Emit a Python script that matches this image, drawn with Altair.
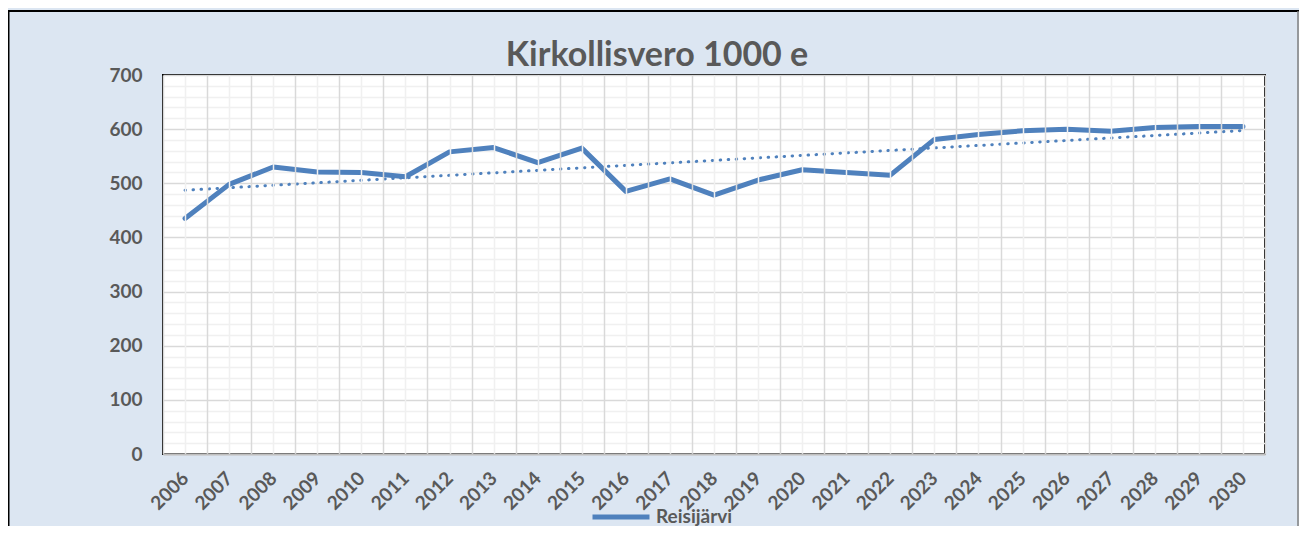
import altair as alt
import pandas as pd

# ---- data ----
years = list(range(2006, 2031))
values = [435, 498, 530, 521, 520, 512, 558, 566, 538, 565, 485, 508, 478,
          506, 525, 520, 515, 581, 590, 597, 600, 596, 603, 605, 605]
series_name = "Reisijärvi"
title_text = "Kirkollisvero 1000 e"
y_ticks = list(range(0, 701, 20))
x_ticks = [y + h for y in range(2005, 2031) for h in (0.5, 1.0)][:-1]

df = pd.DataFrame({"year": years, "value": values, "series": [series_name] * len(years)})

FONT = "Lato"
TXT = "#595959"
BLUE = "#4F81BD"

x_scale = alt.Scale(domain=[2005.5, 2030.5], nice=False, zero=False)
y_scale = alt.Scale(domain=[0, 700], nice=False)

x_axis = alt.Axis(
    values=x_ticks, tickCount=500, title=None, ticks=False, tickSize=0,
    labelExpr="datum.value % 1 ? '' : datum.value",
    labelAngle=315, labelAlign="right", labelBaseline="middle",
    labelPadding=21, labelOverlap=False, labelFlush=False, labelBound=False,
    labelFont=FONT, labelFontSize=19, labelFontWeight="bold", labelColor=TXT,
    grid=True,
    gridColor={"condition": {"test": "datum.value % 1 === 0", "value": "#F0F0F0"}, "value": "#D9D9D9"},
    gridWidth=1.5,
    domain=True, domainColor="#BFBFBF", domainWidth=2, zindex=1,
)
y_axis = alt.Axis(
    values=y_ticks, tickCount=500, title=None, ticks=False, tickSize=0,
    labelExpr="datum.value % 100 ? '' : datum.value",
    labelPadding=21, labelOverlap=False, labelFlush=False,
    labelFont=FONT, labelFontSize=19, labelFontWeight="bold", labelColor=TXT,
    grid=True,
    gridColor={"condition": {"test": "datum.value % 100 === 0", "value": "#D9D9D9"}, "value": "#F0F0F0"},
    gridWidth=1.5, domain=False,
)

base = alt.Chart(df)

line = base.mark_line(strokeWidth=5, strokeCap="round", strokeJoin="round").encode(
    x=alt.X("year:Q", scale=x_scale, axis=x_axis),
    y=alt.Y("value:Q", scale=y_scale, axis=y_axis),
    color=alt.Color(
        "series:N",
        scale=alt.Scale(range=[BLUE]),
        legend=alt.Legend(
            title=None, orient="none", legendX=427, legendY=411, padding=0,
            symbolType="stroke", symbolSize=3249, symbolStrokeWidth=5,
            labelFont=FONT, labelFontSize=19, labelFontWeight="bold",
            labelColor=TXT, labelOffset=4,
        ),
    ),
)

trend = base.transform_regression("year", "value", method="linear").mark_line(
    color=BLUE, strokeWidth=3, strokeDash=[0.5, 7.5], strokeCap="round"
).encode(
    x=alt.X("year:Q", scale=x_scale),
    y=alt.Y("value:Q", scale=y_scale),
)

title = alt.Chart(pd.DataFrame({"t": [title_text]})).mark_text(
    font=FONT, fontSize=34, fontWeight="bold", color=TXT,
    align="center", baseline="alphabetic",
).encode(text="t:N", x=alt.value(494), y=alt.value(-9))

frame_color = "#000000"
left_border = alt.Chart(pd.DataFrame({"t": [0]})).mark_rule(color=frame_color, strokeWidth=3).encode(
    x=alt.value(-155), y=alt.value(-64), y2=alt.value(470))
top_border = alt.Chart(pd.DataFrame({"t": [0]})).mark_rule(color=frame_color, strokeWidth=2).encode(
    x=alt.value(-155), x2=alt.value(1136), y=alt.value(-64))
right_border = alt.Chart(pd.DataFrame({"t": [0]})).mark_rule(color="#7F7F7F", strokeWidth=1.5).encode(
    x=alt.value(1135), y=alt.value(-64), y2=alt.value(470))

chart = alt.layer(trend, line, title, left_border, top_border, right_border).properties(
    width=1102, height=379,
    autosize=alt.AutoSizeParams(type="none"),
    padding={"left": 155, "top": 67, "right": 34, "bottom": 72},
).configure(
    background="#DCE6F2",
).configure_view(
    fill="white", stroke="black", strokeWidth=2,
)

chart.save("out.html", embed_options={"renderer": "svg", "actions": False})
